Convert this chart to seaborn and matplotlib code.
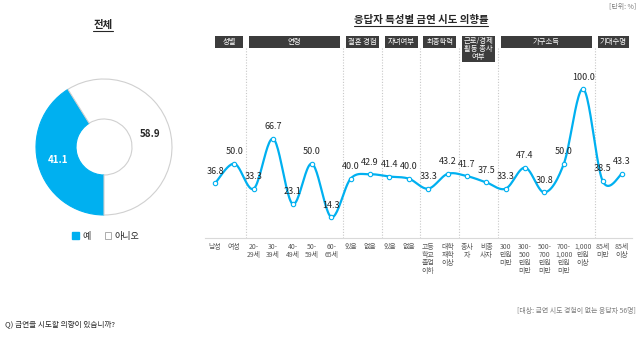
import numpy as np
import pandas as pd
import matplotlib
matplotlib.use("Agg")
import matplotlib.pyplot as plt
import seaborn as sns
from matplotlib.patches import Rectangle, Patch
from matplotlib.lines import Line2D

# ---------------- data ----------------
categories = ["남성", "여성", "20-\n29세", "30-\n39세", "40-\n49세", "50-\n59세", "60-\n65세",
              "있음", "없음", "있음", "없음",
              "고등\n학교\n졸업\n이하", "대학\n재학\n이상",
              "종사\n자", "비종\n사자",
              "300\n만원\n미만", "300-\n500\n만원\n미만", "500-\n700\n만원\n미만",
              "700-\n1,000\n만원\n미만", "1,000\n만원\n이상",
              "85세\n미만", "85세\n이상"]
values = [36.8, 50.0, 33.3, 66.7, 23.1, 50.0, 14.3,
          40.0, 42.9, 41.4, 40.0,
          33.3, 43.2, 41.7, 37.5,
          33.3, 47.4, 30.8, 50.0, 100.0,
          38.5, 43.3]
groups = ["성별", "연령", "결혼 경험", "자녀여부", "최종학력", "근로/경제\n활동 종사\n여부", "가구소득", "기대수명"]
group_sizes = [2, 5, 2, 2, 2, 2, 5, 2]
pie_labels = ["예", "아니오"]
pie_values = [41.1, 58.9]

# ---------------- style ----------------
sns.set_theme(style="white")
plt.rcParams['font.family'] = ['Noto Sans CJK KR', 'DejaVu Sans']

BLUE = "#00B0F0"
DARK = "#262626"
GRAY = "#595959"
HEAD = "#3C3C3C"

W, H = 643, 338
fig = plt.figure(figsize=(W / 100, H / 100), dpi=100)


def fx(x):
    return x / W


def fy(y):
    return 1 - y / H


# ---------------- line chart ----------------
y0_px, top_px = 238.4, 36.0
ppu = 1.4936
ymax = (y0_px - top_px) / ppu
ax = fig.add_axes([fx(205.3), fy(y0_px), (631.7 - 205.3) / W, (y0_px - top_px) / H])
n = len(values)
xs = np.arange(n)
ax.set_xlim(-0.5, n - 0.5)
ax.set_ylim(0, ymax)

# smoothed (Excel-like) curve through the data points
P = np.column_stack([xs, values]).astype(float)
Pe = np.vstack([P[0], P, P[-1]])
segs = []
t = np.linspace(0, 1, 25)[:, None]
for i in range(n - 1):
    p0, p3 = Pe[i + 1], Pe[i + 2]
    c1 = p0 + (Pe[i + 2] - Pe[i]) / 6
    c2 = p3 - (Pe[i + 3] - Pe[i + 1]) / 6
    b = (1 - t) ** 3 * p0 + 3 * (1 - t) ** 2 * t * c1 + 3 * (1 - t) * t ** 2 * c2 + t ** 3 * p3
    segs.append(b if i == 0 else b[1:])
curve = np.vstack(segs)
df_curve = pd.DataFrame({"x": curve[:, 0], "y": curve[:, 1]})
sns.lineplot(data=df_curve, x="x", y="y", sort=False, estimator=None, ax=ax,
             color=BLUE, linewidth=1.6, zorder=3)
df_pts = pd.DataFrame({"x": xs, "y": values})
sns.scatterplot(data=df_pts, x="x", y="y", ax=ax, s=10, facecolor="white",
                edgecolor=BLUE, linewidth=0.8, zorder=4)

for i, v in enumerate(values):
    ax.annotate(f"{v:.1f}", (i, v), xytext=(0, 8.6), textcoords="offset points",
                ha="center", va="center", fontsize=6.5, color=DARK, zorder=5)

# group separators and header boxes
bounds = np.cumsum(group_sizes)
seps = [b - 0.5 + 0.1 for b in bounds[:-1]]
hb_bot = (y0_px - 48) / ppu
hb_bot_tall = (y0_px - 62) / ppu
for s in seps:
    ax.plot([s, s], [0, hb_bot], color="#C8C8C8", lw=0.8, ls=(0, (1, 1.5)), zorder=1)
lefts = [0.0] + [s + 0.15 for s in seps]
rights = [s - 0.15 for s in seps] + [n - 1 + 0.35]
for g, l, r in zip(groups, lefts, rights):
    bot = hb_bot_tall if "\n" in g else hb_bot
    ax.add_patch(Rectangle((l, bot), r - l, ymax - bot, facecolor=HEAD, edgecolor="none",
                           clip_on=False, zorder=2))
    ax.text((l + r) / 2, (bot + ymax) / 2, g, ha="center", va="center", color="white",
            fontsize=5.3, linespacing=0.95, zorder=3)

ax.set_xticks(xs)
ax.set_xticklabels(categories, fontsize=5, color=GRAY, linespacing=1.05, va="top")
ax.tick_params(axis="x", length=0, pad=3)
ax.set_yticks([])
ax.set_xlabel("")
ax.set_ylabel("")
for side in ["left", "right", "top"]:
    ax.spines[side].set_visible(False)
ax.spines["bottom"].set_color("#D9D9D9")
ax.spines["bottom"].set_linewidth(0.8)

# ---------------- donut ----------------
cx, cy, R = 104, 147, 70
axp = fig.add_axes([fx(cx - R), fy(cy + R), 2 * R / W, 2 * R / H])
wedges, _ = axp.pie(pie_values, colors=[BLUE, "white"], startangle=270, counterclock=False,
                    radius=68 / R, wedgeprops=dict(width=40 / R, linewidth=0.8))
wedges[0].set_edgecolor(BLUE)
wedges[1].set_edgecolor("#D0D0D0")
axp.set_xlim(-1, 1)
axp.set_ylim(-1, 1)
axp.set_aspect("equal")
axp.axis("off")
rmid = 48 / R
for w, v, c in zip(wedges, pie_values, ["white", DARK]):
    ang = np.deg2rad((w.theta1 + w.theta2) / 2)
    axp.text(rmid * np.cos(ang), rmid * np.sin(ang), f"{v:.1f}", ha="center", va="center",
             fontsize=7, fontweight="bold", color=c)

handles = [Patch(facecolor=BLUE, edgecolor=BLUE), Patch(facecolor="white", edgecolor="#A0A0A0", linewidth=0.6)]
fig.legend(handles, pie_labels, loc="center", bbox_to_anchor=(fx(106), fy(236)), ncol=2,
           frameon=False, fontsize=6.5, handlelength=0.7, handleheight=0.7,
           handletextpad=0.4, columnspacing=1.6, labelcolor=DARK)

# ---------------- titles & notes ----------------
def underlined(x, y, s, **kw):
    t = fig.text(fx(x), fy(y), s, ha="center", va="center", **kw)
    fig.canvas.draw()
    bb = t.get_window_extent()
    yl = bb.y0 - 1
    fig.add_artist(Line2D([bb.x0 / W, bb.x1 / W], [yl / H, yl / H], color=DARK, lw=0.8))
    return t

underlined(103, 25, "전체", fontsize=7.5, fontweight="bold", color=DARK)
underlined(421, 20, "응답자 특성별 금연 시도 의향률", fontsize=7.5, fontweight="bold", color=DARK)
fig.text(fx(636), fy(7), "[단위: %]", ha="right", va="center", fontsize=5, color="#7F7F7F")
fig.text(fx(636), fy(311), "[대상: 금연 시도 경험이 없는 응답자 56명]", ha="right", va="center",
         fontsize=5, color="#7F7F7F")
fig.text(fx(5), fy(324), "Q) 금연을 시도할 의향이 있습니까?", ha="left", va="center",
         fontsize=5.5, color=DARK)

fig.savefig("out.png", dpi=100)
